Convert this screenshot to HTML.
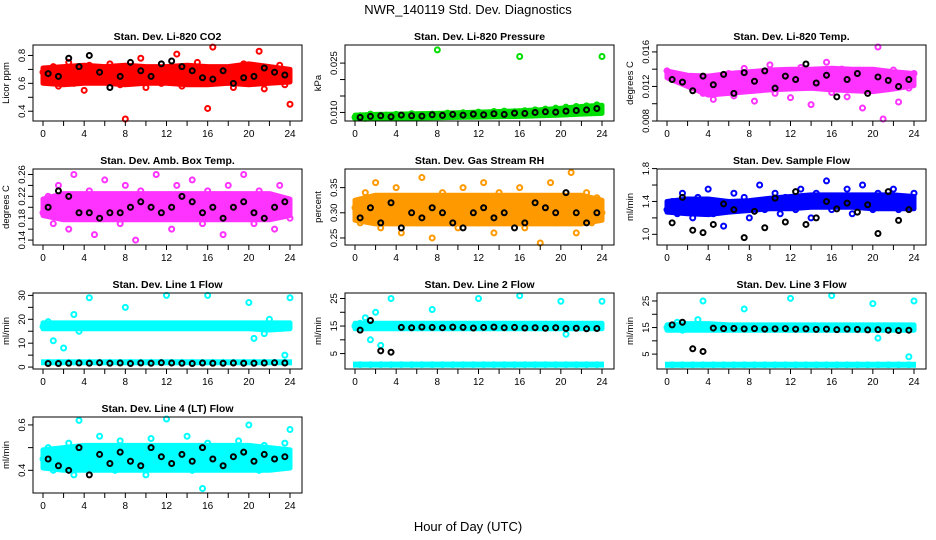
<!DOCTYPE html>
<html><head><meta charset="utf-8"><style>
html,body{margin:0;padding:0;background:#fff;}
svg{display:block;font-family:"Liberation Sans",sans-serif;}
</style></head><body>
<svg id="c" width="936" height="540" viewBox="0 0 936 540">
<text x="468" y="14" font-size="13" text-anchor="middle">NWR_140119  Std. Dev. Diagnostics</text>
<text x="468" y="531" font-size="13" text-anchor="middle">Hour of Day (UTC)</text>
</svg>
<script>
const bandHours=[0,2,4,6,8,10,12,14,16,18,20,22,24];
const co2Main=[0.68,0.62,0.72,0.58,0.66,0.75,0.6,0.7,0.55,0.73,0.64,0.69,0.61,0.74,0.66,0.59,0.33,0.7,0.63,0.78,0.57,0.68,0.71,0.6,0.65,0.72,0.81,0.58,0.67,0.62,0.75,0.6,0.42,0.86,0.68,0.63,0.71,0.57,0.66,0.74,0.61,0.69,0.83,0.56,0.7,0.64,0.73,0.59,0.45];
const co2Black=[0.67,0.65,0.78,0.72,0.8,0.68,0.57,0.65,0.75,0.69,0.65,0.74,0.76,0.72,0.69,0.64,0.63,0.69,0.6,0.64,0.65,0.71,0.68,0.66];
const co2Hi=[0.71,0.72,0.73,0.72,0.73,0.72,0.72,0.73,0.72,0.72,0.74,0.72,0.7];
const co2Lo=[0.6,0.59,0.6,0.6,0.59,0.6,0.6,0.59,0.59,0.6,0.59,0.6,0.61];
const presMain=[0.0085,0.009,0.0082,0.0095,0.0088,0.009,0.0092,0.0086,0.0094,0.009,0.0089,0.0096,0.0091,0.0093,0.0088,0.0095,0.029,0.0092,0.0098,0.0094,0.0091,0.0099,0.0096,0.0093,0.0101,0.0097,0.0095,0.0103,0.0099,0.0104,0.0098,0.0102,0.027,0.0105,0.0101,0.0108,0.0104,0.011,0.0107,0.0113,0.0109,0.0116,0.0112,0.0118,0.0114,0.012,0.0117,0.0123,0.027];
const presBlack=[0.0085,0.0088,0.009,0.0087,0.0092,0.009,0.0089,0.0093,0.0091,0.0094,0.0092,0.0095,0.0093,0.0096,0.0094,0.0098,0.0097,0.01,0.0102,0.0101,0.0104,0.0106,0.0108,0.0112];
const presHi=[0.0092,0.0094,0.0095,0.0096,0.0097,0.0099,0.0101,0.0103,0.0105,0.0108,0.0113,0.0118,0.0122];
const presLo=[0.008,0.0081,0.0082,0.0083,0.0084,0.0085,0.0086,0.0087,0.0088,0.009,0.0092,0.0095,0.0097];
const tempMain=[0.0138,0.0135,0.0133,0.013,0.0128,0.0125,0.0118,0.0112,0.0121,0.0105,0.013,0.0115,0.0135,0.0109,0.0126,0.0141,0.0118,0.0103,0.0132,0.0124,0.0145,0.0112,0.0128,0.0137,0.0107,0.0131,0.0142,0.0119,0.0099,0.0134,0.0126,0.0148,0.0113,0.0129,0.014,0.0108,0.0122,0.0136,0.0095,0.0131,0.0116,0.0166,0.0082,0.0125,0.0139,0.0102,0.013,0.0118,0.0135];
const tempBlack=[0.0128,0.0125,0.0115,0.0132,0.0122,0.0134,0.0112,0.0136,0.0126,0.0138,0.0118,0.0132,0.0128,0.0146,0.0124,0.0133,0.0108,0.0128,0.0135,0.0112,0.0131,0.0127,0.012,0.0128];
const tempHi=[0.0138,0.0133,0.0132,0.0135,0.0137,0.0139,0.014,0.014,0.0141,0.014,0.014,0.0137,0.0135];
const tempLo=[0.013,0.012,0.011,0.0112,0.0114,0.0116,0.0117,0.0118,0.0116,0.0115,0.0114,0.0117,0.0121];
const boxMain=[0.19,0.22,0.17,0.24,0.2,0.16,0.26,0.21,0.18,0.23,0.15,0.2,0.25,0.19,0.22,0.17,0.24,0.2,0.14,0.23,0.21,0.18,0.26,0.19,0.22,0.16,0.24,0.2,0.18,0.25,0.21,0.17,0.23,0.19,0.22,0.15,0.24,0.2,0.18,0.26,0.21,0.17,0.23,0.19,0.22,0.16,0.24,0.2,0.18];
const boxBlack=[0.2,0.23,0.22,0.19,0.19,0.18,0.19,0.19,0.2,0.21,0.2,0.19,0.2,0.22,0.21,0.19,0.2,0.18,0.2,0.21,0.19,0.18,0.2,0.21];
const boxHi=[0.215,0.225,0.225,0.225,0.225,0.225,0.225,0.225,0.225,0.225,0.225,0.225,0.215];
const boxLo=[0.185,0.177,0.177,0.177,0.177,0.177,0.177,0.177,0.177,0.177,0.177,0.177,0.185];
const rhMain=[0.31,0.28,0.34,0.3,0.36,0.27,0.32,0.29,0.35,0.26,0.31,0.33,0.28,0.37,0.3,0.25,0.32,0.34,0.29,0.31,0.27,0.35,0.3,0.33,0.28,0.36,0.31,0.26,0.34,0.29,0.32,0.3,0.35,0.27,0.31,0.33,0.24,0.3,0.36,0.28,0.32,0.29,0.38,0.26,0.31,0.34,0.28,0.33,0.3];
const rhBlack=[0.29,0.31,0.28,0.32,0.27,0.3,0.29,0.31,0.3,0.28,0.27,0.3,0.31,0.29,0.3,0.27,0.28,0.32,0.31,0.3,0.34,0.3,0.28,0.3];
const rhHi=[0.325,0.335,0.335,0.335,0.335,0.335,0.335,0.335,0.335,0.335,0.335,0.335,0.325];
const rhLo=[0.285,0.278,0.278,0.278,0.278,0.278,0.278,0.278,0.278,0.278,0.278,0.278,0.285];
const flowMain=[1.3,1.4,1.25,1.5,1.35,1.2,1.45,1.3,1.55,1.25,1.4,1.1,1.35,1.5,1.3,1.45,1.2,1.4,1.6,1.3,1.35,1.5,1.25,1.45,1.4,1.3,1.55,1.35,1.2,1.5,1.4,1.65,1.3,1.45,1.35,1.55,1.25,1.4,1.6,1.35,1.3,1.5,1.45,1.4,1.55,1.3,1.45,1.35,1.5];
const flowBlack=[1.14,1.45,1.05,1.02,1.12,1.37,1.3,0.96,1.28,1.08,1.44,1.15,1.52,1.12,1.2,1.4,1.31,1.38,1.27,1.36,1.01,1.52,1.17,1.3];
const flowHi=[1.4,1.43,1.43,1.4,1.41,1.44,1.46,1.48,1.48,1.48,1.48,1.48,1.46];
const flowLo=[1.27,1.25,1.24,1.27,1.29,1.31,1.31,1.33,1.33,1.33,1.31,1.31,1.31];
const line1Main=[17,19,11,18,8,17,22,15,17,29,17,17,17,17,17,17,25,17,17,17,17,17,17,17,30,17,17,17,17,17,17,17,30,17,17,17,17,17,17,17,27,12,17,14,20,17,17,5,29];
const line1Low=[2,2,2,2,2,2,2,2,2,2,2,2,2,2,2,2,2,2,2,2,2,2,2,2];
const line1Black=[1.5,1.5,1.6,1.7,1.6,1.8,1.6,1.7,1.5,1.7,1.6,1.8,1.7,1.6,1.5,1.7,1.6,1.6,1.7,1.6,1.6,1.7,1.8,1.7];
const line1Hi=[18.5,18.5,18.5,18.5,18.5,18.5,18.5,18.5,18.5,18.5,18.5,18.5,18.5];
const line1Lo=[16,16,16,16,16,16,16,16,16,16,16,15.5,16];
const line2Main=[15,16,18,10,20,8,15,25,15,15,15,15,15,15,15,21,15,15,15,15,15,15,15,15,25,15,15,15,15,15,15,15,26,15,15,15,15,15,15,15,24,12,15,15,15,15,15,15,24];
const line2Low=[1,1,1,1,1,1,1,1,1,1,1,1,1,1,1,1,1,1,1,1,1,1,1,1];
const line2Black=[13.5,17,6,5.5,14.5,14.4,14.6,14.5,14.4,14.6,14.5,14.3,14.5,14.6,14.4,14.5,14.3,14.4,14.2,14.4,14.1,14.2,14,14.1];
const line2Hi=[16,16,16,16,16,16,16,16,16,16,16,16,16];
const line2Lo=[14,14,14,14,14,14,14,14,14,14,14,14,14];
const line3Main=[15,16,17,14,16,15,18,25,15,15,15,15,15,15,15,22,15,15,15,15,15,15,15,15,26,15,15,15,15,15,15,15,27,15,15,15,15,15,15,15,24,11,15,15,15,15,15,4,25];
const line3Low=[1,1,1,1,1,1,1,1,1,1,1,1,1,1,1,1,1,1,1,1,1,1,1,1];
const line3Black=[16,17,7,6,14.8,14.6,14.7,14.5,14.6,14.4,14.5,14.6,14.4,14.5,14.3,14.4,14.2,14.4,14.3,14.1,14.2,14,13.9,14];
const line3Hi=[16,16.5,16.5,16,16,16,16,16,16,16,16,16,16];
const line3Lo=[14,14,14,14,14,14,14,14,14,14,14,14,14];
const line4Main=[0.45,0.5,0.4,0.48,0.43,0.52,0.38,0.62,0.46,0.5,0.41,0.55,0.44,0.49,0.4,0.53,0.46,0.42,0.5,0.47,0.38,0.54,0.45,0.48,0.63,0.42,0.5,0.46,0.55,0.4,0.48,0.32,0.52,0.44,0.49,0.41,0.5,0.46,0.53,0.42,0.6,0.47,0.4,0.51,0.45,0.49,0.43,0.52,0.58];
const line4Black=[0.45,0.42,0.4,0.5,0.38,0.47,0.43,0.48,0.44,0.42,0.5,0.46,0.43,0.47,0.44,0.5,0.45,0.42,0.46,0.48,0.44,0.47,0.45,0.46];
const line4Hi=[0.49,0.5,0.51,0.51,0.51,0.51,0.51,0.51,0.51,0.51,0.51,0.5,0.49];
const line4Lo=[0.41,0.4,0.4,0.4,0.4,0.4,0.4,0.4,0.4,0.4,0.4,0.4,0.41];
const xTicks=[0,2,4,6,8,10,12,14,16,18,20,22,24];
const xLabels=[0,4,8,12,16,20,24];

const panels=[
 {name:"co2",title:"Stan. Dev. Li-820 CO2",yl:"Licor ppm",col:0,row:0,lo:0.33,hi:0.875,color:"#ff0000",main:co2Main,black:co2Black,bhi:co2Hi,blo:co2Lo,ticks:[0.4,0.5,0.6,0.7,0.8],labels:["0.4","0.6","0.8"]},
 {name:"pressure",title:"Stan. Dev. Li-820 Pressure",yl:"kPa",col:1,row:0,lo:0.0074,hi:0.0305,color:"#00dd00",main:presMain,black:presBlack,bhi:presHi,blo:presLo,ticks:[0.01,0.015,0.02,0.025],labels:["0.010","0.025"]},
 {name:"li820-temp",title:"Stan. Dev. Li-820 Temp.",yl:"degrees C",col:2,row:0,lo:0.008,hi:0.0168,color:"#ff33ff",main:tempMain,black:tempBlack,bhi:tempHi,blo:tempLo,ticks:[0.008,0.01,0.012,0.014,0.016],labels:["0.008","0.012","0.016"]},
 {name:"box-temp",title:"Stan. Dev. Amb. Box Temp.",yl:"degrees C",col:0,row:1,lo:0.131,hi:0.27,color:"#ff33ff",main:boxMain,black:boxBlack,bhi:boxHi,blo:boxLo,ticks:[0.14,0.16,0.18,0.2,0.22,0.24,0.26],labels:["0.14","0.18","0.22","0.26"]},
 {name:"gas-rh",title:"Stan. Dev. Gas Stream RH",yl:"percent",col:1,row:1,lo:0.236,hi:0.387,color:"#ff9900",main:rhMain,black:rhBlack,bhi:rhHi,blo:rhLo,ticks:[0.25,0.3,0.35],labels:["0.25","0.30","0.35"]},
 {name:"sample-flow",title:"Stan. Dev. Sample Flow",yl:"ml/min",col:2,row:1,lo:0.87,hi:1.795,color:"#0000ff",main:flowMain,black:flowBlack,bhi:flowHi,blo:flowLo,ticks:[1.0,1.2,1.4,1.6,1.8],labels:["1.0","1.4","1.8"]},
 {name:"line1-flow",title:"Stan. Dev. Line 1 Flow",yl:"ml/min",col:0,row:2,lo:-0.8,hi:31,color:"#00ffff",main:line1Main,low:line1Low,black:line1Black,bhi:line1Hi,blo:line1Lo,ticks:[0,5,10,15,20,25,30],labels:["0","10","20","30"]},
 {name:"line2-flow",title:"Stan. Dev. Line 2 Flow",yl:"ml/min",col:1,row:2,lo:-0.6,hi:27,color:"#00ffff",main:line2Main,low:line2Low,black:line2Black,bhi:line2Hi,blo:line2Lo,ticks:[5,10,15,20,25],labels:["5","15","25"]},
 {name:"line3-flow",title:"Stan. Dev. Line 3 Flow",yl:"ml/min",col:2,row:2,lo:-0.6,hi:28,color:"#00ffff",main:line3Main,low:line3Low,black:line3Black,bhi:line3Hi,blo:line3Lo,ticks:[5,10,15,20,25],labels:["5","15","25"]},
 {name:"line4-flow",title:"Stan. Dev. Line 4 (LT) Flow",yl:"ml/min",col:0,row:3,lo:0.30,hi:0.635,color:"#00ffff",main:line4Main,black:line4Black,bhi:line4Hi,blo:line4Lo,ticks:[0.4,0.5,0.6],labels:["0.4","0.6"]}
];
const NS="http://www.w3.org/2000/svg";
const svg=document.getElementById("c");
function mk(tag,attrs,parent){const e=document.createElementNS(NS,tag);for(const k in attrs)e.setAttribute(k,attrs[k]);parent.appendChild(e);return e;}
panels.forEach(p=>{
 const L=33+p.col*312, R=L+269, T=45+p.row*124, B=T+76;
 const X0=L+10, X1=L+257;
 const xs=h=>X0+(X1-X0)*h/24;
 const ys=v=>B-(B-T)*(v-p.lo)/(p.hi-p.lo);
 const g=mk("g",{},svg);
 
 
 const t=mk("text",{x:(L+R)/2,y:T-5,"font-size":"10.5","font-weight":"bold","text-anchor":"middle"},g);
 t.textContent=p.title;
 
 
 const yt=mk("text",{x:0,y:0,"font-size":"9.5","text-anchor":"middle",transform:`translate(${L-24},${(T+B)/2}) rotate(-90)`},g);
 yt.textContent=p.yl;
 
 
 const clip=v=>Math.max(T+2,Math.min(B-2,v));
 let d="";
 bandHours.forEach((h,i)=>{d+=(i?"L":"M")+xs(h).toFixed(1)+","+ys(p.bhi[i]).toFixed(1);});
 for(let i=bandHours.length-1;i>=0;i--){d+="L"+xs(bandHours[i]).toFixed(1)+","+ys(p.blo[i]).toFixed(1);}
 const band=mk("path",{d:d+"Z",fill:p.color,stroke:p.color,"stroke-width":"5","stroke-linejoin":"round"},g);
 
 
 const pts=mk("g",{fill:"none","stroke-width":"2"},g);
 
 
 if(p.low){
  const lowBand=mk("rect",{x:xs(0)-2,y:ys(Math.max(...p.low))-3,width:xs(24)-xs(0)+4,height:6,fill:p.color},pts);
  
  
  p.low.forEach((v,i)=>{const c=mk("circle",{cx:xs((i+0.5)*24/p.low.length),cy:ys(v),r:2.4,stroke:p.color},pts);});
 }
 p.main.forEach((v,i)=>{const c=mk("circle",{cx:xs(24*i/(p.main.length-1)),cy:clip(ys(v)),r:2.5,stroke:p.color},pts);});
 p.black.forEach((v,i)=>{const c=mk("circle",{cx:xs((i+0.5)*24/p.black.length),cy:clip(ys(v)),r:2.5,stroke:"#000"},pts);});
 const fr=mk("rect",{x:L,y:T,width:R-L,height:B-T,fill:"none",stroke:"#000","stroke-width":"1"},g);
 
 
 xTicks.forEach(h=>{mk("line",{x1:xs(h),x2:xs(h),y1:B,y2:B+5,stroke:"#000"},g);});
 mk("line",{x1:xs(0),x2:xs(24),y1:B,y2:B,stroke:"#000"},g);
 xLabels.forEach(h=>{const tx=mk("text",{x:xs(h),y:B+16,"font-size":"10","text-anchor":"middle"},g);tx.textContent=h;});
 p.ticks.forEach(v=>{mk("line",{x1:L-5,x2:L,y1:ys(v),y2:ys(v),stroke:"#000"},g);});
 p.labels.forEach(s=>{const v=parseFloat(s);const tx=mk("text",{x:0,y:0,"font-size":"9.5","text-anchor":"middle",transform:`translate(${L-8},${ys(v)}) rotate(-90)`},g);tx.textContent=s;});
});
</script>
</body></html>
